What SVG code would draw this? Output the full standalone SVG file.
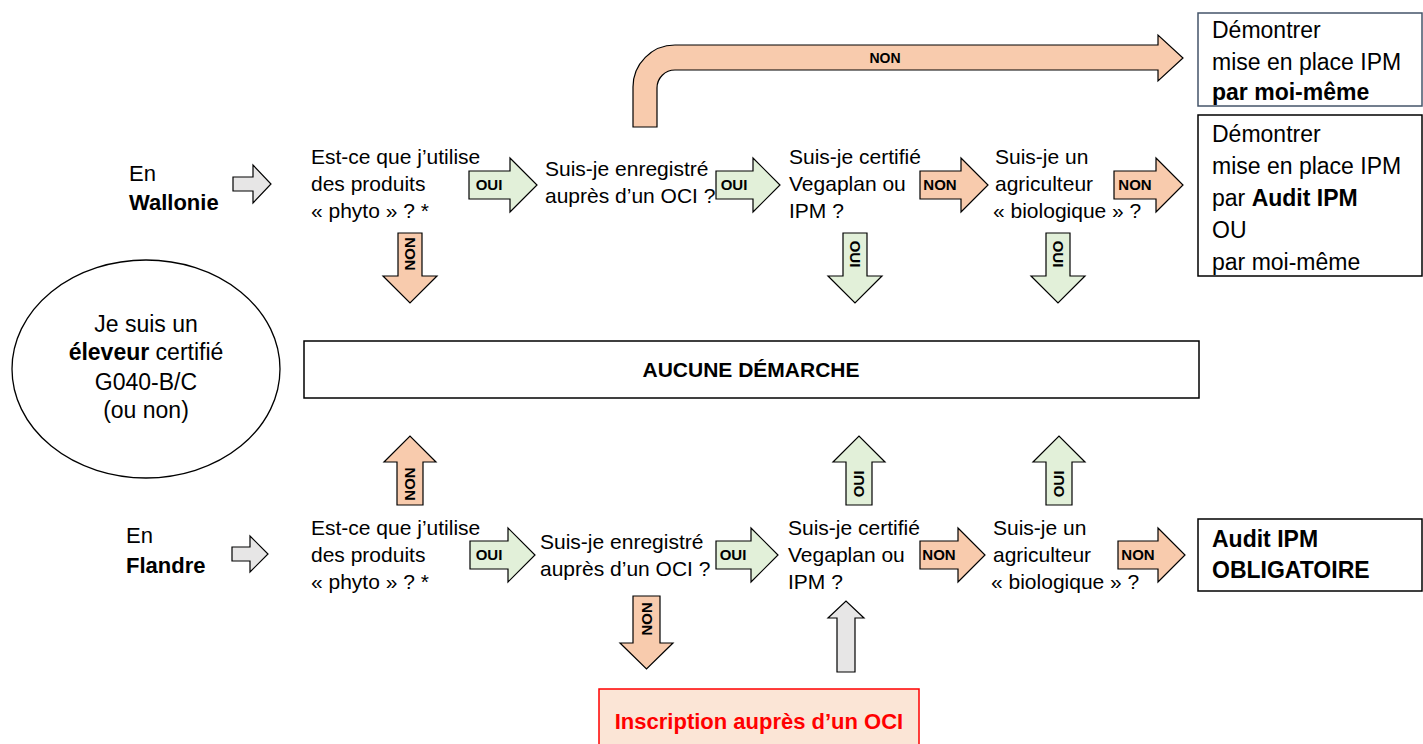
<svg xmlns="http://www.w3.org/2000/svg" width="1423" height="744" viewBox="0 0 1423 744">
<style>
text{font-family:'Liberation Sans',Arial,sans-serif;fill:#000}
.q{font-size:21px}
.bx{font-size:23px}
.b{font-weight:bold}
.lbl{font-size:15px;font-weight:bold}
.or{fill:#f8cbad;stroke:#000;stroke-width:1.2}
.gr{fill:#e2f0d9;stroke:#000;stroke-width:1.2}
.gy{fill:#e7e6e6;stroke:#000;stroke-width:1.2}
.box{fill:#fff;stroke:#000;stroke-width:1.5}
</style>
<rect width="1423" height="744" fill="#fff"/>

<g id="start">
<ellipse cx="146" cy="369" rx="134" ry="109" fill="#fff" stroke="#000" stroke-width="1.3"/>
<text class="bx" x="146" y="332" text-anchor="middle">Je suis un</text>
<text class="bx" x="146" y="360" text-anchor="middle"><tspan class="b">éleveur</tspan> certifié</text>
<text class="bx" x="146" y="390" text-anchor="middle">G040-B/C</text>
<text class="bx" x="146" y="418" text-anchor="middle">(ou non)</text>
</g>

<g id="wallonie">
<text class="q" x="129" y="181" style="font-size:22px">En</text>
<text class="q b" x="129" y="210" style="font-size:22px">Wallonie</text>
</g>
<g id="flandre">
<text class="q" x="126" y="543" style="font-size:22px">En</text>
<text class="q b" x="126" y="573" style="font-size:22px">Flandre</text>
</g>

<g id="w-q1">
<text class="q" x="311" y="164">Est-ce que j’utilise</text>
<text class="q" x="311" y="191">des produits</text>
<text class="q" x="311" y="218">« phyto » ? *</text>
</g>
<g id="w-q2">
<text class="q" x="545" y="176">Suis-je enregistré</text>
<text class="q" x="545" y="203">auprès d’un OCI ?</text>
</g>
<g id="w-q3">
<text class="q" x="789" y="164">Suis-je certifié</text>
<text class="q" x="789" y="191">Vegaplan ou</text>
<text class="q" x="789" y="218">IPM ?</text>
</g>
<g id="w-q4">
<text class="q" x="995" y="164">Suis-je un</text>
<text class="q" x="995" y="191">agriculteur</text>
<text class="q" x="993" y="218">« biologique » ?</text>
</g>

<g id="f-q1">
<text class="q" x="311" y="535">Est-ce que j’utilise</text>
<text class="q" x="311" y="562">des produits</text>
<text class="q" x="311" y="589">« phyto » ? *</text>
</g>
<g id="f-q2">
<text class="q" x="540" y="549">Suis-je enregistré</text>
<text class="q" x="540" y="576">auprès d’un OCI ?</text>
</g>
<g id="f-q3">
<text class="q" x="788" y="535">Suis-je certifié</text>
<text class="q" x="788" y="562">Vegaplan ou</text>
<text class="q" x="788" y="589">IPM ?</text>
</g>
<g id="f-q4">
<text class="q" x="993" y="535">Suis-je un</text>
<text class="q" x="993" y="562">agriculteur</text>
<text class="q" x="991" y="589">« biologique » ?</text>
</g>

<g id="box-moi-meme">
<rect x="1198" y="13" width="224" height="93" fill="#fff" stroke="#44546a" stroke-width="1.5"/>
<text class="bx" x="1212" y="38">Démontrer</text>
<text class="bx" x="1212" y="70">mise en place IPM</text>
<text class="bx b" x="1212" y="100">par moi-même</text>
</g>
<g id="box-audit-ou">
<rect class="box" x="1198" y="115" width="224" height="161"/>
<text class="bx" x="1212" y="142">Démontrer</text>
<text class="bx" x="1212" y="174">mise en place IPM</text>
<text class="bx" x="1212" y="206">par <tspan class="b">Audit IPM</tspan></text>
<text class="bx" x="1212" y="238">OU</text>
<text class="bx" x="1212" y="270">par moi-même</text>
</g>
<g id="box-aucune">
<rect class="box" x="304" y="341" width="895" height="57"/>
<text class="b" x="751" y="377" text-anchor="middle" style="font-size:21px">AUCUNE DÉMARCHE</text>
</g>
<g id="box-audit-obligatoire">
<rect class="box" x="1198" y="519" width="224" height="72"/>
<text class="bx b" x="1212" y="547">Audit IPM</text>
<text class="bx b" x="1212" y="578">OBLIGATOIRE</text>
</g>
<g id="box-inscription">
<rect x="599" y="689" width="320" height="70" fill="#fbe5d6" stroke="#ff0000" stroke-width="1.5"/>
<text class="b" x="759" y="729" text-anchor="middle" style="font-size:22px;fill:#ff0000">Inscription auprès d’un OCI</text>
</g>

<g id="connectors">
<!-- top bent arrow -->
<path class="or" d="M633,127 V87 A42,42 0 0 1 675,45 H1158 V35 L1183,58 L1158,81 V70 H675 A18,18 0 0 0 657,88 V127 Z"/>
<text class="lbl" x="885" y="63" text-anchor="middle" style="font-size:14px">NON</text>

<!-- gray entry arrows -->
<path class="gy" d="M233,177 H253 V165 L271,184 L253,203 V191 H233 Z"/>
<path class="gy" d="M232,547 H250 V536 L268,554 L250,572 V561 H232 Z"/>

<!-- Wallonie horizontal -->
<path class="gr" d="M469,171 H510 V158 L537,185 L510,212 V199 H469 Z"/>
<text class="lbl" x="489" y="190" text-anchor="middle">OUI</text>
<path class="gr" d="M716,171 H753 V158 L780,185 L753,212 V199 H716 Z"/>
<text class="lbl" x="734" y="190" text-anchor="middle">OUI</text>
<path class="or" d="M920,171 H961 V158 L988,185 L961,212 V199 H920 Z"/>
<text class="lbl" x="940" y="190" text-anchor="middle">NON</text>
<path class="or" d="M1114,171 H1156 V158 L1183,185 L1156,212 V199 H1114 Z"/>
<text class="lbl" x="1135" y="190" text-anchor="middle">NON</text>

<!-- Flandre horizontal -->
<path class="gr" d="M470,541 H508 V528 L535,555 L508,582 V569 H470 Z"/>
<text class="lbl" x="489" y="560" text-anchor="middle">OUI</text>
<path class="gr" d="M716,541 H751 V528 L778,555 L751,582 V569 H716 Z"/>
<text class="lbl" x="733" y="560" text-anchor="middle">OUI</text>
<path class="or" d="M920,541 H958 V528 L985,555 L958,582 V569 H920 Z"/>
<text class="lbl" x="939" y="560" text-anchor="middle">NON</text>
<path class="or" d="M1118,541 H1158 V528 L1185,555 L1158,582 V569 H1118 Z"/>
<text class="lbl" x="1138" y="560" text-anchor="middle">NON</text>

<!-- Wallonie down arrows -->
<path class="or" d="M398,233 H422 V276 H437 L410,303 L383,276 H398 Z"/>
<text class="lbl" transform="translate(410,254) rotate(90)" x="0" y="5" text-anchor="middle">NON</text>
<path class="gr" d="M843,233 H867 V276 H882 L855,303 L828,276 H843 Z"/>
<text class="lbl" transform="translate(855,254) rotate(90)" x="0" y="5" text-anchor="middle">OUI</text>
<path class="gr" d="M1046,233 H1070 V276 H1085 L1058,303 L1031,276 H1046 Z"/>
<text class="lbl" transform="translate(1058,254) rotate(90)" x="0" y="5" text-anchor="middle">OUI</text>

<!-- Flandre up arrows -->
<path class="or" d="M397,505 V462 H384 L410,436 L436,462 H423 V505 Z"/>
<text class="lbl" transform="translate(410,484) rotate(-90)" x="0" y="5" text-anchor="middle">NON</text>
<path class="gr" d="M846,505 V462 H833 L859,436 L885,462 H872 V505 Z"/>
<text class="lbl" transform="translate(859,484) rotate(-90)" x="0" y="5" text-anchor="middle">OUI</text>
<path class="gr" d="M1046,505 V462 H1033 L1059,436 L1085,462 H1072 V505 Z"/>
<text class="lbl" transform="translate(1059,484) rotate(-90)" x="0" y="5" text-anchor="middle">OUI</text>

<!-- Flandre bottom arrows -->
<path class="or" d="M633,596 H660 V643 H673 L646.5,669 L620,643 H633 Z"/>
<text class="lbl" transform="translate(646.5,619) rotate(90)" x="0" y="5" text-anchor="middle">NON</text>
<path class="gy" d="M837,672 V618 H828 L846,601 L864,618 H855 V672 Z"/>
</g>
</svg>
